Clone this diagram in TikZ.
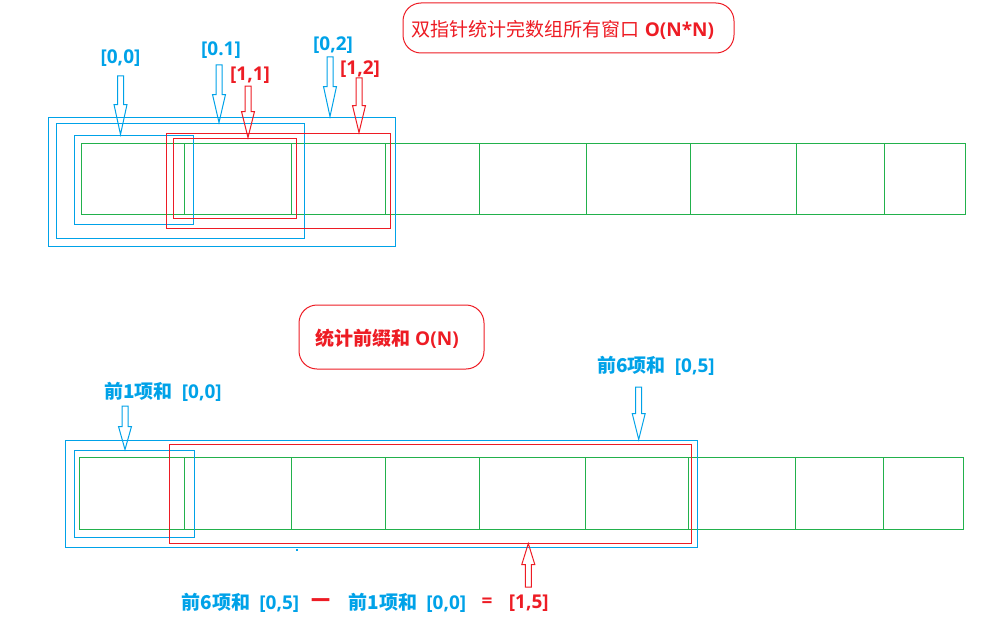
\documentclass[tikz,border=0pt]{standalone}
\usepackage{fontspec}
\setmainfont{Open Sans}
\newfontfamily\cjk{Noto Sans CJK SC}
\usetikzlibrary{positioning, fit, calc}
\definecolor{pblue}{HTML}{00A2E8}
\definecolor{pred}{HTML}{ED1C24}
\definecolor{pgreen}{HTML}{22B14C}
\tikzset{
    cell/.style={rectangle, draw=pgreen, line width=1pt, inner sep=0pt},
    bluebox/.style={rectangle, draw=pblue, line width=1pt, inner sep=0pt},
    redbox/.style={rectangle, draw=pred, line width=1pt, inner sep=0pt},
    callout/.style={rectangle, draw=pred, line width=1pt, rounded corners=18pt, inner sep=0pt},
    bluelabel/.style={text=pblue, font=\fontsize{19}{21}\selectfont\bfseries, inner sep=0pt},
    redlabel/.style={text=pred, font=\fontsize{19}{21}\selectfont\bfseries, inner sep=0pt},
    blockarrow/.style={line width=1pt, to path={let \p1=(\tikztostart), \p2=(\tikztotarget), \p3=($(\tikztotarget)!#1!(\tikztostart)$) in
        (\x1-3pt,\y1) -- (\x1-3pt,\y3) -- (\x1-6.5pt,\y3) -- (\x1,\y2) -- (\x1+6.5pt,\y3) -- (\x1+3pt,\y3) -- (\x1+3pt,\y1) -- cycle}}
}
\newcommand{\gap}{\hspace{4pt}}

\begin{document}
\begin{tikzpicture}[x=1pt, y=-1pt]
    \useasboundingbox (0,0) rectangle (1004,634);

    % Top array
    \foreach \a/\b [count=\i] in {81/184, 184/291, 291/385, 385/479, 479/586, 586/690, 690/796, 796/884, 884/965}
        \node (t\i) [cell, fit={(\a,143) (\b,214)}] {};

    % Windows over the top array
    \node (win02) [bluebox, fit={(48,117) (395,246)}] {};
    \node (win01) [bluebox, fit={(56,123) (304,238)}] {};
    \node (win00) [bluebox, fit={(74,135) (193,224)}] {};
    \node (win12) [redbox, fit={(166,133) (390,228)}] {};
    \node (win11) [redbox, fit={(173,138) (296,218)}] {};

    % Labels of the windows
    \node (l00) [bluelabel] at (120.5,58) {[0,0]};
    \node (l01) [bluelabel] at (221,50) {[0.1]};
    \node (l11) [redlabel] at (250,75) {[1,1]};
    \node (l02) [bluelabel] at (333,45) {[0,2]};
    \node (l12) [redlabel] at (360,69) {[1,2]};

    \coordinate (a00) at (120.5,76);
    \coordinate (a01) at (219,65);
    \coordinate (a11) at (248,86);
    \coordinate (a02) at (330,57);
    \coordinate (a12) at (359,78);

    \draw [blockarrow=30pt, draw=pblue] (a00) to (a00 |- win00.north);
    \draw [blockarrow=28pt, draw=pblue] (a01) to (a01 |- win01.north);
    \draw [blockarrow=26pt, draw=pred] (a11) to (a11 |- win11.north);
    \draw [blockarrow=30pt, draw=pblue] (a02) to (a02 |- win02.north);
    \draw [blockarrow=27pt, draw=pred] (a12) to (a12 |- win12.north);

    % Top note
    \node (toptext) [text=pred, font=\fontsize{19}{22}\selectfont, inner sep=0pt] at (563,30) {{\cjk 双指针统计完数组所有窗口} \textbf{O(N*N)}};
    \node (topnote) [callout, fit={(403,3) (734,53)}] {};

    % Bottom array
    \foreach \a/\b [count=\i] in {79/184, 184/291, 291/385, 385/479, 479/585, 585/688, 688/795, 795/883, 883/963}
        \node (b\i) [cell, fit={(\a,457) (\b,529)}] {};

    \node (pre6) [bluebox, fit={(65,440) (697,547)}] {};
    \node (pre1) [bluebox, fit={(74,450) (194,537)}] {};
    \node (sum15) [redbox, fit={(169,444) (691,543)}] {};
    \fill [pblue] (296,549) rectangle (298,551);

    % Bottom note
    \node (bottext) [redlabel] at (387,339) {{\cjk 统计前缀和} O(N)};
    \node (botnote) [callout, fit={(299,305) (484,369)}] {};

    \node (lpre1) [bluelabel] at (163,392) {{\cjk 前1项和} \gap[0,0]};
    \node (lpre6) [bluelabel] at (656,366) {{\cjk 前6项和} \gap[0,5]};

    \coordinate (b00) at (125,406);
    \coordinate (b05) at (638.7,387);
    \coordinate (b15) at (528.3,587);

    \draw [blockarrow=23pt, draw=pblue] (b00) to (b00 |- pre1.north);
    \draw [blockarrow=26pt, draw=pblue] (b05) to (b05 |- pre6.north);
    \draw [blockarrow=21pt, draw=pred] (b15) to (b15 |- sum15.south);

    % Formula
    \node (f1) [bluelabel] at (240.5,603) {{\cjk 前6项和} \gap[0,5]};
    \node (f2) [redlabel, right=12pt of f1] {\cjk 一};
    \node (f3) [bluelabel, right=18pt of f2] {{\cjk 前1项和} \gap[0,0]};
    \node (f4) [redlabel, right=15pt of f3] {=};
    \node (f5) [redlabel, right=16pt of f4] {[1,5]};

\end{tikzpicture}
\end{document}
